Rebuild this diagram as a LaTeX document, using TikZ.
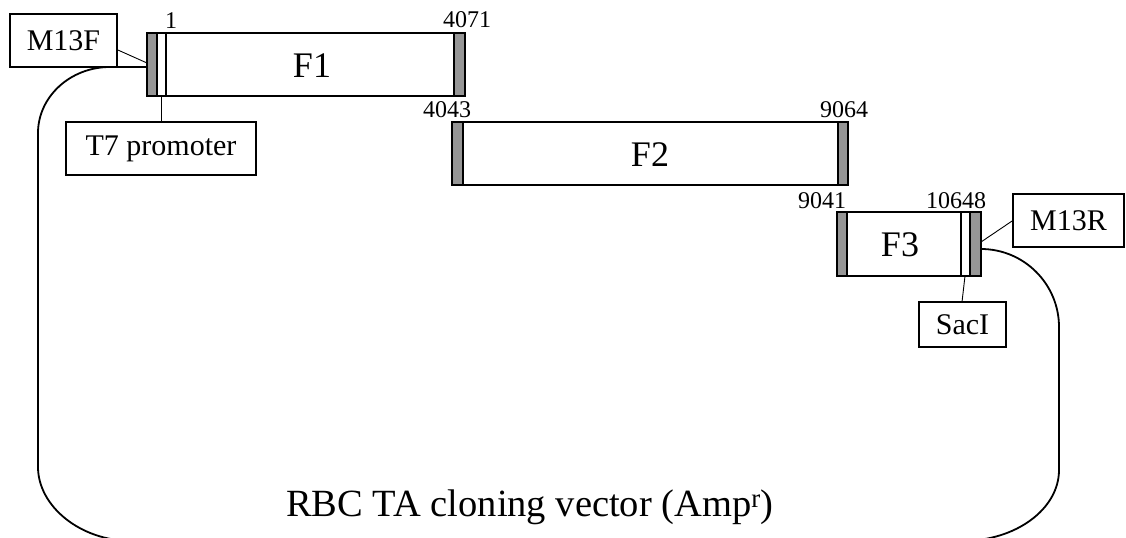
\documentclass[tikz,border=0pt]{standalone}
\usepackage{fontspec}
\setmainfont{Liberation Serif}
\definecolor{barg}{RGB}{150,150,150}
\begin{document}
\begin{tikzpicture}[x=1bp,y=-1bp,
  frag/.style={draw, line width=2.2bp, inner sep=0pt, font=\fontsize{36bp}{40bp}\selectfont},
  lbl/.style={draw, line width=1.8bp, inner sep=0pt, font=\fontsize{30bp}{34bp}\selectfont},
  num/.style={inner sep=0pt, anchor=base, font=\fontsize{24bp}{28bp}\selectfont},
  bar/.style={fill=barg},
  edge/.style={line width=1.3bp},
  conn/.style={line width=0.9bp},
  vec/.style={line width=1.8bp}]
\useasboundingbox (0,0) rectangle (1126,538);
\clip (0,0) rectangle (1126,538);
% gray bars
\fill[bar] (147,33) rectangle (157,96);
\fill[bar] (454,33) rectangle (465,96);
\fill[bar] (452,122) rectangle (463,185);
\fill[bar] (838,122) rectangle (848,185);
\fill[bar] (837,212) rectangle (847,276);
\fill[bar] (970,212) rectangle (981,276);
% fragments
\node[frag, minimum width=318bp, minimum height=63bp] (F1) at (306,64.5) {};
\node[frag, minimum width=396bp, minimum height=63bp] (F2) at (650,153.5) {};
\node[frag, minimum width=144bp, minimum height=64bp] (F3) at (909,244) {};
\node[font=\fontsize{36bp}{40bp}\selectfont] (t1) at (312,66) {F1};
\node[font=\fontsize{36bp}{40bp}\selectfont] (t2) at (650,155) {F2};
\node[font=\fontsize{36bp}{40bp}\selectfont] (t3) at (900,245) {F3};
% bar edges
\draw[edge] (157,33) -- (157,96);
\draw[edge] (166,33) -- (166,96);
\draw[edge] (454,33) -- (454,96);
\draw[edge] (463,122) -- (463,185);
\draw[edge] (838,122) -- (838,185);
\draw[edge] (847,212) -- (847,276);
\draw[edge] (961,212) -- (961,276);
\draw[edge] (970,212) -- (970,276);
% numbers
\node[num] (n1) at (171,29) {1};
\node[num] (n4071) at (467,28) {4071};
\node[num] (n4043) at (447,118) {4043};
\node[num] (n9064) at (844,118) {9064};
\node[num] (n9041) at (822,209) {9041};
\node[num] (n10648) at (956,209) {10648};
% label boxes
\node[lbl, minimum width=107bp, minimum height=53bp] (m13f) at (63.5,40.5) {M13F};
\node[lbl, minimum width=190bp, minimum height=53bp] (t7) at (161,148.5) {T7 promoter};
\node[lbl, minimum width=111bp, minimum height=53bp] (m13r) at (1068.5,220.5) {M13R};
\node[lbl, minimum width=87bp, minimum height=45bp] (sac) at (962.5,324.5) {SacI};
% connector anchor points
\coordinate (f1m) at (147,63);
\coordinate (f1t7) at (161,96);
\coordinate (f3m) at (981,242);
\coordinate (f3s) at (965,276);
\coordinate (vs) at (147,67);
\coordinate (ve) at (981,249);
\draw[conn] (m13f.east |- 0,50) -- (f1m);
\draw[conn] (f1t7) -- (t7.north -| f1t7);
\draw[conn] (f3m) -- (m13r.west |- 0,221);
\draw[conn] (f3s) -- (962,302);
% vector backbone
\draw[vec] (ve) .. controls (1024,249) and (1059,284) .. (1059,327)
  -- (1059,470) .. controls (1059,509) and (1016,541) .. (962,541)
  -- (132,541) .. controls (80,541) and (38,506) .. (38,467)
  -- (38,133) .. controls (38,97) and (70,67) .. (110,67) -- (vs);
\node[anchor=base, inner sep=0pt, font=\fontsize{38.5bp}{42bp}\selectfont] (title) at (530,516) {RBC TA cloning vector (Amp\textsuperscript{r})};
\end{tikzpicture}
\end{document}
